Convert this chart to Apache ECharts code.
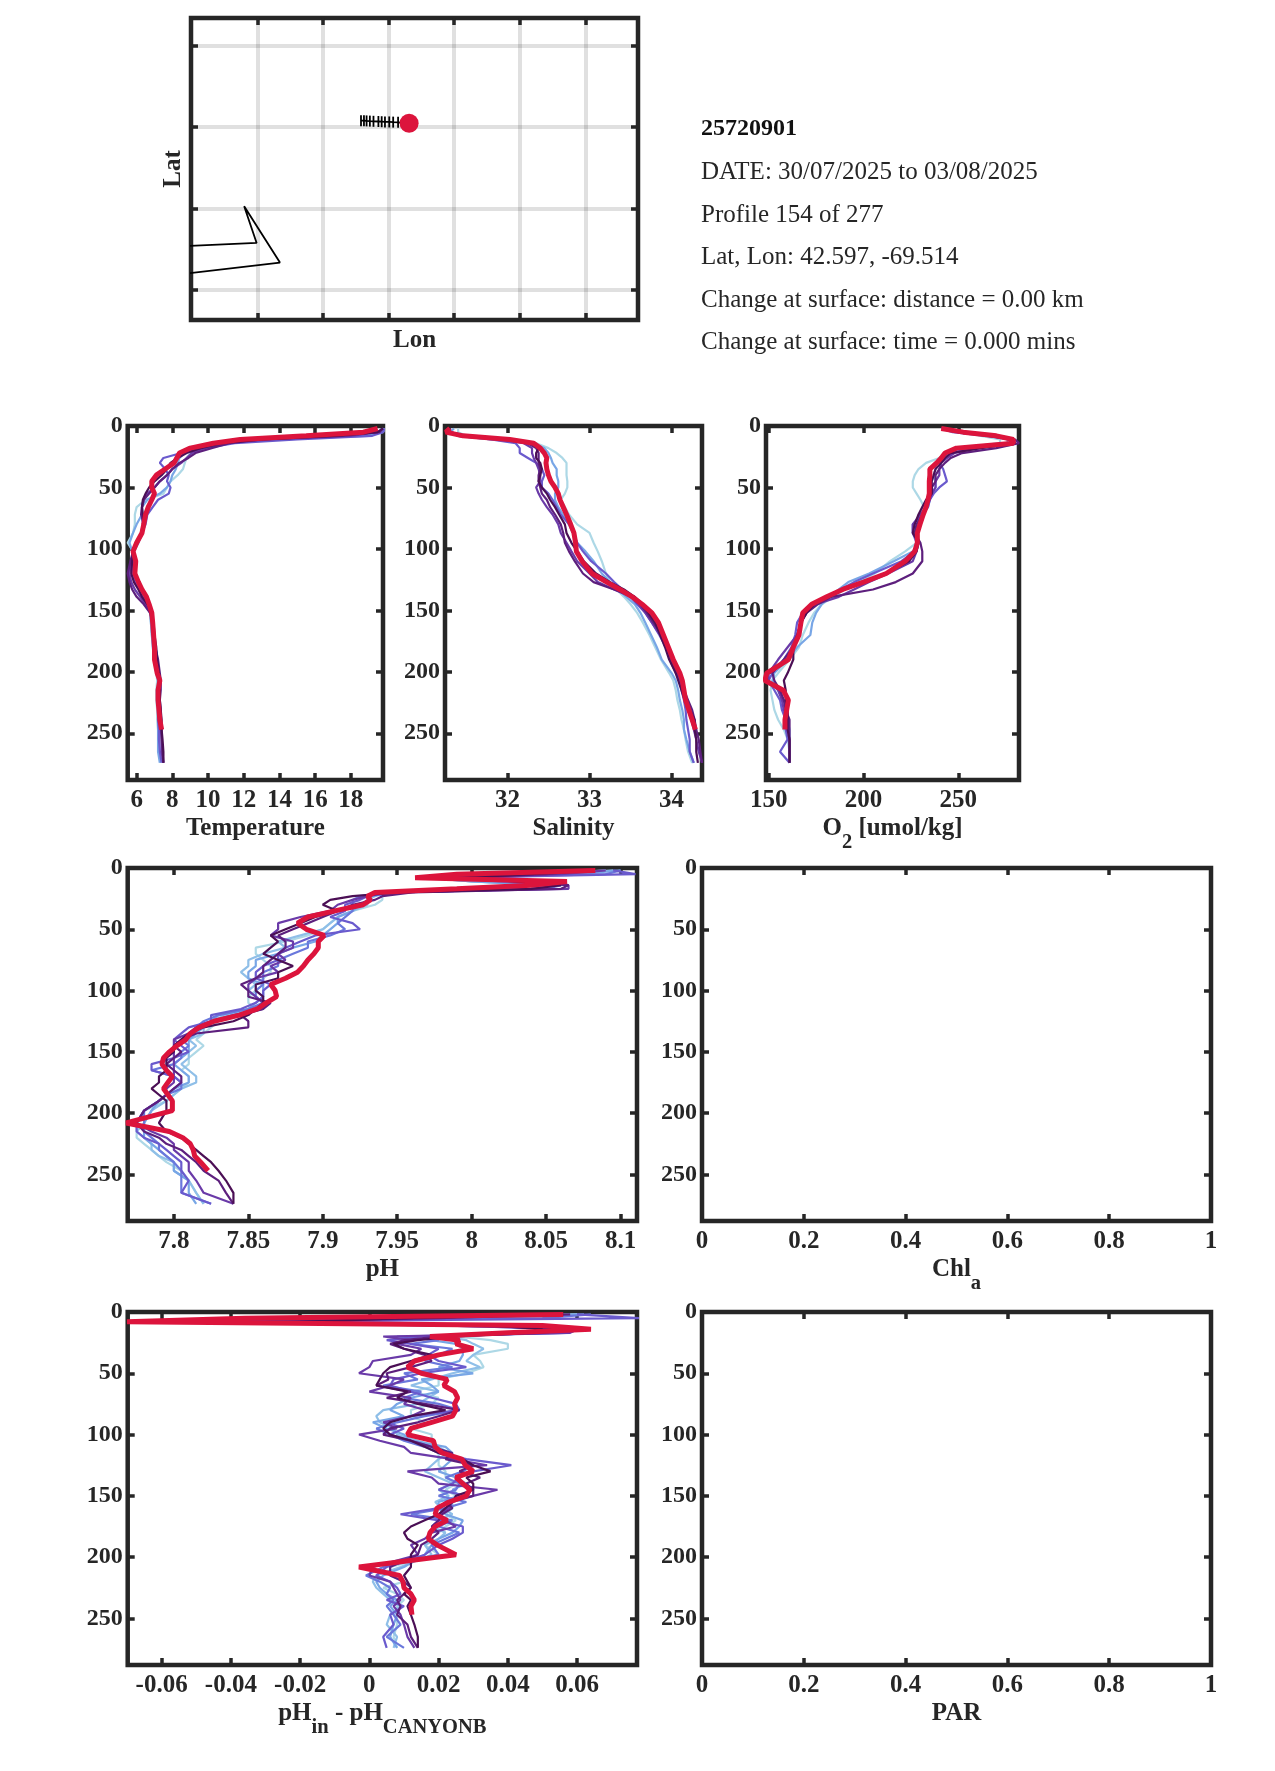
<!DOCTYPE html>
<html><head><meta charset="utf-8">
<style>html,body{margin:0;padding:0;background:#fff}#c{width:1275px;height:1771px}</style>
<script src="https://cdn.jsdelivr.net/npm/echarts@6/dist/echarts.min.js"></script>
</head><body><div id="c"></div>
<script>
const depthSmooth=[2,5,8,11,14,18,22,26,30,35,40,45,50,55,60,66,72,80,87,95,102,110,120,127,133,139,145,152,160,170,180,190,201,207,215,223,231,239,247,255,265,274];
const depthNoisy=[2,5,8,11,14,17,20,23,26,30,35,40,45,50,55,60,65,70,75,80,85,90,95,100,105,110,115,120,125,130,135,140,145,150,155,160,165,170,175,180,185,190,198,208,215,220,225,230,235,240,247,255,265,274];
const depthTicks=[0,50,100,150,200,250];

const tempA=[19.9,19.8,18.4,14,10.8,9.6,9.0,8.8,8.7,8.6,8.3,7.9,7.7,7.5,6.5,6.0,5.9,5.9,5.8,5.5,5.8,5.8,5.8,6.0,6.2,6.45,6.6,6.75,6.8,6.85,6.95,7.0,7.1,7.15,7.1,7.1,7.15,7.15,7.2,7.25,7.3,7.35];
const tempB=[19.9,19.7,19,13,10.8,9.5,8.7,8.4,8.3,8.2,8.0,7.9,7.7,7.3,6.6,6.3,6.3,6.0,5.8,5.6,5.75,5.8,5.8,6.0,6.2,6.4,6.6,6.75,6.8,6.85,6.9,7.0,7.1,7.2,7.2,7.2,7.2,7.2,7.2,7.2,7.2,7.3];
const tempC=[19.9,19.8,19.2,15,11.5,9.8,8.5,7.5,7.3,7.6,7.8,7.7,7.9,7.8,7.2,6.9,6.6,6.5,6.3,6.1,5.85,5.8,5.8,5.9,6.15,6.4,6.6,6.8,6.85,6.9,7.0,7.1,7.2,7.25,7.2,7.2,7.2,7.2,7.25,7.25,7.3,7.4];
const tempD=[19.8,19.5,18,13.5,11,9.8,9.1,8.8,8.5,8,7.7,7.3,7.0,6.6,6.4,6.3,6.3,6.35,6.25,6.0,5.8,5.7,5.6,5.7,5.9,6.2,6.5,6.8,6.9,6.95,7.05,7.15,7.25,7.3,7.3,7.3,7.3,7.3,7.35,7.4,7.4,7.5];
const tempE=[19.8,19.6,17.5,13,11.2,10.2,9.3,8.9,8.4,8.0,7.7,7.3,7.0,6.7,6.4,6.3,6.25,6.4,6.3,6.05,5.8,5.65,5.5,5.6,5.75,6.0,6.4,6.75,6.9,6.95,7.05,7.2,7.3,7.35,7.35,7.3,7.35,7.35,7.4,7.4,7.45,7.5];
const tempF=[19.8,19.5,17,13,10.8,9.6,8.8,8.3,7.9,7.7,7.4,7.0,6.7,6.5,6.35,6.3,6.35,6.4,6.25,6.0,5.8,5.75,5.7,5.85,6.1,6.3,6.6,6.85,6.95,7.0,7.1,7.15,7.25,7.3,7.3,7.3,7.35,7.4,7.4,7.45,7.5,7.5];
const tempNow=[19.5,18.7,15.5,11.8,10.3,9.0,8.4,8.25,8.1,7.6,7.1,6.85,6.85,7.0,6.85,6.65,6.5,6.4,6.3,6.0,5.8,5.95,5.9,6.1,6.3,6.55,6.7,6.85,6.9,6.95,7.0,7.0,7.15,7.3,7.2,7.2,7.25,7.3,7.4];

const salA=[31.4,31.4,31.5,31.9,32.35,32.5,32.6,32.67,32.72,32.72,32.72,32.73,32.73,32.7,32.65,32.7,32.75,32.85,33.0,33.05,33.1,33.15,33.2,33.25,33.33,33.42,33.5,33.58,33.65,33.73,33.8,33.87,33.97,34.02,34.05,34.07,34.1,34.12,34.15,34.17,34.2,34.25];
const salB=[31.35,31.3,31.4,31.8,32.3,32.45,32.5,32.53,32.55,32.6,32.6,32.62,32.62,32.58,32.58,32.62,32.68,32.75,32.8,32.85,32.95,33.05,33.15,33.25,33.35,33.45,33.55,33.62,33.68,33.75,33.82,33.88,34.0,34.05,34.08,34.1,34.13,34.15,34.15,34.18,34.22,34.27];
const salC=[31.3,31.3,31.4,31.8,32.1,32.15,32.15,32.25,32.35,32.42,32.45,32.42,32.42,32.5,32.55,32.6,32.65,32.75,32.8,32.85,32.92,33.02,33.2,33.3,33.4,33.5,33.58,33.68,33.76,33.85,33.93,33.98,34.05,34.1,34.12,34.15,34.17,34.18,34.2,34.22,34.22,34.27];
const salD=[31.3,31.3,31.5,31.9,32.2,32.3,32.3,32.32,32.35,32.38,32.4,32.4,32.35,32.38,32.42,32.48,32.55,32.62,32.65,32.72,32.78,32.85,33.0,33.1,33.3,33.5,33.6,33.68,33.76,33.86,33.94,34.0,34.07,34.11,34.14,34.17,34.2,34.24,34.27,34.3,34.33,34.37];
const salE=[31.3,31.3,31.5,32.0,32.25,32.35,32.38,32.38,32.38,32.4,32.38,32.38,32.4,32.42,32.48,32.52,32.58,32.65,32.68,32.7,32.75,32.82,32.92,33.05,33.3,33.55,33.62,33.7,33.78,33.88,33.95,34,34.08,34.12,34.15,34.2,34.25,34.28,34.3,34.33,34.35,34.37];
const salF=[31.3,31.3,31.4,32.0,32.3,32.38,32.35,32.35,32.4,32.42,32.4,32.38,32.42,32.48,32.52,32.58,32.63,32.7,32.72,32.78,32.85,32.93,33.08,33.25,33.42,33.55,33.65,33.72,33.8,33.86,33.92,33.97,34.05,34.08,34.12,34.16,34.22,34.28,34.28,34.3,34.3,34.32];
const salNow=[31.3,31.25,31.46,32.03,32.32,32.4,32.45,32.48,32.47,32.48,32.5,32.53,32.58,32.62,32.64,32.68,32.72,32.77,32.81,32.83,32.84,32.91,33.03,33.21,33.37,33.52,33.64,33.76,33.84,33.9,33.96,34.02,34.1,34.13,34.15,34.17,34.21,34.25,34.29];

const oxyA=[242,250,262,272,272,250,244,240,233,229,227,226,226,228,230,232,231,229,228,228,222,214,206,197,190,184,178,174,171,168,166,161,155,152,151,152,153,155,158,160,161,161];
const oxyB=[242,252,268,276,276,252,245,241,238,238,237,238,238,236,235,234,231,229,228,229,226,216,203,192,187,182,178,175,173,172,165,160,153,152,155,158,160,160,161,161,161,161];
const oxyC=[241,247,265,277,278,256,247,243,240,242,243,244,240,237,235,234,231,226,226,228,227,220,205,195,188,180,173,168,165,164,162,158,152,150,153,156,157,159,159,160,156,161];
const oxyD=[243,250,268,279,280,260,248,244,241,240,240,238,238,236,235,233,230,226,226,229,228,226,213,203,195,187,175,169,167,165,160,155,150,150,155,157,158,160,160,161,161,161];
const oxyE=[243,252,268,280,282,270,252,246,243,240,238,238,236,236,234,233,231,228,227,230,231,231,226,217,205,183,176,170,167,165,163,158,152,153,156,158,159,161,161,161,161,161];
const oxyF=[242,250,266,278,280,262,246,243,241,238,237,236,236,236,233,231,229,227,226,229,228,224,212,200,190,181,174,170,167,166,163,163,160,158,159,159,160,160,160,161,161,161];
const oxyNow=[241,252.6,270,279,279,249,243,241,238.6,235,235,234.7,234.7,234.7,234,233,231.5,229.8,228.4,228.4,227,222,212,200,189,180.6,172.7,168,167,166,163,160.4,149,148,157.7,160.4,159.5,158.6,158.6];

const phA=[8.09,8.05,7.975,8.0,8.05,8.03,7.95,7.94,7.94,7.935,7.92,7.91,7.905,7.9,7.89,7.875,7.855,7.855,7.86,7.865,7.865,7.86,7.855,7.855,7.85,7.85,7.855,7.84,7.83,7.825,7.82,7.815,7.82,7.815,7.81,7.81,7.805,7.81,7.81,7.805,7.8,7.795,7.78,7.775,7.775,7.775,7.78,7.785,7.79,7.795,7.805,7.81,7.815,7.82];
const phG=[8.095,8.06,7.97,8.0,8.05,8.04,7.945,7.935,7.93,7.93,7.92,7.91,7.905,7.9,7.885,7.87,7.875,7.86,7.85,7.85,7.845,7.85,7.855,7.85,7.855,7.86,7.855,7.835,7.825,7.82,7.82,7.81,7.815,7.81,7.81,7.805,7.81,7.815,7.815,7.805,7.8,7.795,7.785,7.78,7.775,7.78,7.785,7.785,7.79,7.8,7.8,7.81,7.815,7.82];
const phB=[8.1,8.07,7.97,8.0,8.055,8.04,7.95,7.93,7.93,7.925,7.92,7.91,7.91,7.905,7.9,7.895,7.88,7.87,7.855,7.855,7.85,7.85,7.86,7.86,7.86,7.855,7.85,7.83,7.825,7.82,7.815,7.81,7.81,7.81,7.805,7.8,7.805,7.81,7.81,7.8,7.795,7.79,7.785,7.78,7.78,7.78,7.785,7.79,7.795,7.8,7.8,7.81,7.81,7.815];
const phH=[8.1,8.09,7.985,8.02,8.06,8.05,7.95,7.925,7.92,7.92,7.92,7.915,7.91,7.915,7.905,7.89,7.89,7.88,7.87,7.87,7.86,7.86,7.86,7.855,7.855,7.86,7.85,7.83,7.82,7.815,7.81,7.805,7.81,7.805,7.805,7.8,7.785,7.8,7.805,7.805,7.795,7.79,7.78,7.78,7.78,7.785,7.79,7.79,7.795,7.8,7.805,7.805,7.805,7.825];
const phC=[8.095,8.11,7.98,8.02,8.06,8.04,7.95,7.93,7.925,7.915,7.915,7.905,7.92,7.925,7.895,7.885,7.875,7.87,7.87,7.86,7.855,7.855,7.865,7.86,7.86,7.855,7.845,7.825,7.825,7.81,7.805,7.8,7.805,7.81,7.8,7.785,7.785,7.8,7.805,7.8,7.795,7.79,7.78,7.775,7.775,7.78,7.79,7.795,7.8,7.805,7.805,7.81,7.805,7.825];
const phD=[8.09,8.06,8.0,8.03,8.065,8.065,7.94,7.93,7.92,7.91,7.905,7.885,7.87,7.87,7.865,7.88,7.88,7.87,7.875,7.865,7.87,7.855,7.85,7.85,7.855,7.86,7.86,7.84,7.825,7.815,7.81,7.8,7.8,7.8,7.8,7.8,7.8,7.8,7.8,7.795,7.795,7.79,7.78,7.775,7.785,7.795,7.8,7.8,7.805,7.81,7.81,7.815,7.82,7.84];
const phE=[8.08,8.05,7.99,8.03,8.065,8.06,7.96,7.94,7.935,7.92,7.91,7.9,7.89,7.88,7.87,7.875,7.875,7.87,7.865,7.86,7.86,7.855,7.845,7.85,7.85,7.865,7.86,7.845,7.85,7.85,7.815,7.805,7.8,7.805,7.8,7.795,7.8,7.805,7.805,7.8,7.795,7.79,7.78,7.775,7.78,7.79,7.795,7.805,7.81,7.815,7.82,7.83,7.835,7.84];
const phF=[8.075,8.04,7.99,8.03,8.06,8.04,7.95,7.92,7.905,7.9,7.91,7.895,7.885,7.875,7.865,7.87,7.865,7.86,7.87,7.88,7.87,7.87,7.855,7.855,7.86,7.86,7.855,7.85,7.84,7.82,7.81,7.805,7.8,7.8,7.795,7.795,7.795,7.79,7.79,7.785,7.79,7.795,7.795,7.79,7.795,7.805,7.81,7.815,7.82,7.825,7.83,7.835,7.84,7.84];
const phNow=[8.083,7.99,7.962,8.064,8.04,7.99,7.935,7.93,7.932,7.927,7.908,7.89,7.883,7.889,7.901,7.897,7.897,7.894,7.89,7.887,7.883,7.875,7.865,7.868,7.869,7.862,7.856,7.844,7.827,7.817,7.811,7.808,7.802,7.797,7.793,7.792,7.795,7.799,7.796,7.793,7.796,7.799,7.799,7.768,7.797,7.806,7.811,7.813,7.814,7.818,7.823];

const diffA=[0.06,0.02,-0.02,0.03,0.055,0.05,0.025,0.035,0.04,0.04,0.03,0.032,0.033,0.028,0.02,0.02,0.012,0.02,0.018,0.012,0.012,0.016,0.012,0.018,0.018,0.02,0.02,0.02,0.02,0.022,0.022,0.025,0.022,0.025,0.024,0.024,0.022,0.025,0.022,0.02,0.018,0.016,0.02,0.006,0.006,0.01,0.004,0.008,0.01,0.008,0.008,0.008,0.007,0.008];
const diffG=[0.06,0.025,-0.03,0.035,0.058,0.05,0.022,0.028,0.03,0.033,0.03,0.028,0.032,0.024,0.018,0.012,0.02,0.017,0.014,0.004,0.002,0.003,0.007,0.008,0.014,0.02,0.023,0.02,0.018,0.016,0.02,0.024,0.02,0.023,0.019,0.021,0.024,0.02,0.018,0.022,0.02,0.016,0.018,0.009,0.002,0.001,0.002,0.004,0.006,0.009,0.006,0.005,0.008,0.007];
const diffB=[0.062,0.03,-0.01,0.04,0.06,0.05,0.018,0.018,0.025,0.027,0.027,0.026,0.02,0.03,0.015,0.018,0.02,0.012,0.008,0.006,0.01,0.001,0.005,0.01,0.012,0.022,0.024,0.024,0.022,0.02,0.025,0.028,0.024,0.026,0.02,0.02,0.022,0.027,0.026,0.024,0.02,0.018,0.016,0.01,0.004,0.002,0.003,0.005,0.008,0.006,0.008,0.007,0.006,0.008];
const diffH=[0.064,0.05,-0.06,0.02,0.062,0.056,0.008,0.02,0.012,0.024,0.02,0.016,0.024,0.01,0.014,0.004,0.015,0.01,0.02,0.026,0.016,0.008,0.002,0.006,0.01,0.016,0.02,0.025,0.03,0.027,0.022,0.026,0.025,0.02,0.028,0.022,0.012,0.024,0.02,0.026,0.022,0.018,0.02,0.004,-0.001,0.003,0.006,0.005,0.007,0.005,0.007,0.009,0.005,0.01];
const diffC=[0.06,0.078,-0.04,0.03,0.06,0.057,0.015,0.005,0.012,0.02,0.017,0.02,0.028,0.015,0.007,0.006,0.012,0.018,0.025,0.026,0.012,0.005,0.01,0.006,0.012,0.018,0.02,0.028,0.041,0.03,0.026,0.024,0.02,0.028,0.022,0.02,0.009,0.02,0.027,0.027,0.024,0.02,0.016,0.005,0.002,0.006,0.008,0.009,0.005,0.01,0.006,0.007,0.004,0.005];
const diffD=[0.055,-0.01,-0.05,0.02,0.06,0.058,0.004,0.012,0.008,0.015,0.012,0.001,0.0,-0.003,0.01,0.006,0.0,0.012,0.01,0.016,0.012,0.004,0.008,-0.003,0.003,0.01,0.012,0.024,0.034,0.011,0.018,0.02,0.037,0.03,0.024,0.023,0.02,0.022,0.025,0.018,0.016,0.012,0.014,0.001,0.0,0.006,0.007,0.008,0.009,0.007,0.009,0.01,0.011,0.013];
const diffE=[0.058,0.02,-0.03,0.03,0.058,0.05,0.02,0.01,0.006,0.01,0.016,0.018,0.012,0.005,0.0055,0.002,0.012,0.005,0.016,0.026,0.02,0.014,0.006,0.004,0.012,0.018,0.024,0.022,0.03,0.026,0.032,0.028,0.03,0.03,0.022,0.024,0.021,0.02,0.018,0.02,0.018,0.015,0.014,0.006,0.006,0.01,0.012,0.01,0.008,0.009,0.008,0.011,0.012,0.014];
const diffF=[0.056,0.01,-0.02,0.035,0.05,0.045,0.025,0.014,0.007,0.01,0.018,0.012,0.006,0.004,0.003,0.002,0.011,0.008,0.014,0.022,0.012,0.006,0.004,0.006,0.012,0.016,0.02,0.027,0.03,0.035,0.028,0.03,0.03,0.025,0.024,0.022,0.02,0.016,0.012,0.01,0.011,0.014,0.012,0.012,0.01,0.011,0.012,0.01,0.012,0.011,0.012,0.013,0.014,0.014];
const diffNow=[0.056,-0.036,-0.07,0.05,0.064,0.04,0.0175,0.026,0.025,0.03,0.02,0.013,0.011,0.015,0.0225,0.0215,0.0246,0.0255,0.0246,0.025,0.024,0.018,0.012,0.011,0.0185,0.019,0.021,0.0267,0.0277,0.03,0.025,0.027,0.029,0.028,0.023,0.0195,0.019,0.0225,0.019,0.0175,0.017,0.0195,0.025,-0.003,0.0087,0.0097,0.01,0.012,0.013,0.012,0.0123];

const mapLonTicks=[-74.14,-72.14,-70.14,-68.14,-66.14,-64.14];
const mapLatTicks=[38.5,40.5,42.5,44.5];
const coastLon=[-76.2,-74.16,-74.54,-73.45,-76.2];
const coastLat=[39.59,39.66,40.56,39.18,38.92];
const trackLon=[-70.98,-70.89,-70.81,-70.71,-70.6,-70.45,-70.35,-70.25,-70.12,-70.0,-69.85,-69.7,-69.514];
const trackLat=[42.66,42.66,42.655,42.65,42.645,42.64,42.635,42.63,42.63,42.625,42.62,42.61,42.597];
const infoLines=['DATE: 30/07/2025 to 03/08/2025','Profile 154 of 277','Lat, Lon: 42.597, -69.514','Change at surface: distance = 0.00 km','Change at surface: time = 0.000 mins'];
const sixColors=['#add8e6','#78a6e6','#6a5acd','#6a3aa8','#5d1f7d','#4b0f55'];
const eightColors=['#add8e6','#8fbfe8','#78a6e6','#6a78dc','#6a5acd','#6a3aa8','#5d1f7d','#4b0f55'];
const nowColor='#dc143c';
const ink='#262626', serif='"Liberation Serif","Times New Roman",serif';
const FS=25;
const grids=[],xAxes=[],yAxes=[],series=[];
const rich={b:{fontFamily:serif,fontWeight:'bold',fontSize:FS,color:ink},s:{fontFamily:serif,fontWeight:'bold',fontSize:20.5,color:ink,padding:[28,0,0,0]}};

function panel(box,xr,xTicks,name,ylim,yTicks,showLabels,gridOnly,nameGap){
  const g=grids.length;
  grids.push({left:box[0],top:box[1],width:box[2]-box[0],height:box[3]-box[1],show:true,borderColor:ink,borderWidth:4.5,containLabel:false});
  const tick=(c)=>({show:true,inside:true,length:7,customValues:c,lineStyle:{color:ink,width:3.5}});
  const split=(c)=>gridOnly?{show:true,customValues:c,lineStyle:{color:'rgba(0,0,0,0.12)',width:4}}:{show:false};
  const lab=(c,fs,mg,pad)=>({show:showLabels,customValues:c,margin:mg,padding:pad,fontFamily:serif,fontWeight:'bold',fontSize:fs,color:ink,formatter:v=>String(v)});
  const base={axisLine:{show:false,onZero:false},gridIndex:g,type:'value'};
  xAxes.push({...base,min:xr[0],max:xr[1],position:'bottom',axisTick:tick(xTicks),axisLabel:lab(xTicks,FS,8,0),splitLine:split(xTicks),
    name:name,nameLocation:'middle',nameGap:nameGap||36,nameTextStyle:{fontFamily:serif,fontWeight:'bold',fontSize:FS,color:ink,rich}});
  xAxes.push({...base,min:xr[0],max:xr[1],position:'top',axisTick:tick(xTicks),axisLabel:{show:false},splitLine:{show:false}});
  yAxes.push({...base,min:ylim[0],max:ylim[1],inverse:ylim[2],position:'left',axisTick:tick(yTicks),axisLabel:lab(yTicks,FS-1,5,[3,0,0,0]),splitLine:split(yTicks)});
  yAxes.push({...base,min:ylim[0],max:ylim[1],inverse:ylim[2],position:'right',axisTick:tick(yTicks),axisLabel:{show:false},splitLine:{show:false}});
  return {x:xAxes.length-2,y:yAxes.length-2};
}
function profiles(ax,depth,thin,colors,now){
  const add=(v,c,w)=>series.push({type:'line',xAxisIndex:ax.x,yAxisIndex:ax.y,showSymbol:false,symbol:'none',silent:true,animation:false,
    lineStyle:{color:c,width:w},data:v.map((d,i)=>[d,depth[i]])});
  thin.forEach((v,i)=>add(v,colors[i],2.2));
  add(now,nowColor,5);
}
const Y=[0,288,true];
const subGap=24;
// map
const m=panel([191,18,638,320],[-76.16,-62.54],mapLonTicks,'Lon',[37.77,45.18,false],mapLatTicks,false,true,8);
yAxes[m.y].name='Lat';yAxes[m.y].nameLocation='middle';yAxes[m.y].nameGap=4.5;yAxes[m.y].nameRotate=90;
yAxes[m.y].nameTextStyle={fontFamily:serif,fontWeight:'bold',fontSize:FS,color:ink};
series.push({type:'line',xAxisIndex:m.x,yAxisIndex:m.y,showSymbol:false,symbol:'none',silent:true,animation:false,lineStyle:{color:'#000',width:1.8},data:coastLon.map((d,i)=>[d,coastLat[i]])});
series.push({type:'line',xAxisIndex:m.x,yAxisIndex:m.y,symbol:'rect',symbolSize:[1.8,11],showSymbol:true,itemStyle:{color:'#000'},silent:true,animation:false,lineStyle:{color:'#000',width:1.8},data:trackLon.map((d,i)=>[d,trackLat[i]])});
series.push({type:'scatter',xAxisIndex:m.x,yAxisIndex:m.y,z:6,symbol:'circle',symbolSize:19,itemStyle:{color:nowColor,opacity:1},silent:true,animation:false,data:[[trackLon[trackLon.length-1],trackLat[trackLat.length-1]]]});

profiles(panel([127.7,426,383,780],[5.5,19.8],[6,8,10,12,14,16,18],'Temperature',Y,depthTicks,true),depthSmooth,[tempA,tempB,tempC,tempD,tempE,tempF],sixColors,tempNow);
profiles(panel([445,426,702,780],[31.24,34.37],[32,33,34],'Salinity',Y,depthTicks,true),depthSmooth,[salA,salB,salC,salD,salE,salF],sixColors,salNow);
profiles(panel([766,426,1019,780],[148.6,282],[150,200,250],'{b|O}{s|2}{b| [umol/kg]}',Y,depthTicks,true,false,subGap),depthSmooth,[oxyA,oxyB,oxyC,oxyD,oxyE,oxyF],sixColors,oxyNow);
profiles(panel([127.7,868,637,1221],[7.769,8.111],[7.8,7.85,7.9,7.95,8,8.05,8.1],'pH',Y,depthTicks,true),depthNoisy,[phA,phG,phB,phH,phC,phD,phE,phF],eightColors,phNow);
panel([702,868,1211,1221],[0,1],[0,0.2,0.4,0.6,0.8,1],'{b|Chl}{s|a}',Y,depthTicks,true,false,subGap);
profiles(panel([127.7,1312,637,1665],[-0.0698,0.0773],[-0.06,-0.04,-0.02,0,0.02,0.04,0.06],'{b|pH}{s|in}{b| - pH}{s|CANYONB}',Y,depthTicks,true,false,subGap),depthNoisy,[diffA,diffG,diffB,diffH,diffC,diffD,diffE,diffF],eightColors,diffNow);
panel([702,1312,1211,1665],[0,1],[0,0.2,0.4,0.6,0.8,1],'PAR',Y,depthTicks,true);

const infoCenters=[172,215,257,300,342];
const titles=[{text:'25720901',left:701,top:129-12.5,textStyle:{fontFamily:serif,fontWeight:'bold',fontSize:FS-1,color:'#111'}}];
infoLines.forEach((t,i)=>titles.push({text:t,left:701,top:infoCenters[i]-12.5,textStyle:{fontFamily:serif,fontWeight:'normal',fontSize:FS,color:'#262626'}}));
titles.forEach(t=>t.padding=0);

const chart=echarts.init(document.getElementById('c'),null,{renderer:'canvas'});
chart.setOption({backgroundColor:'#fff',animation:false,title:titles,grid:grids,xAxis:xAxes,yAxis:yAxes,series:series});
</script></body></html>
